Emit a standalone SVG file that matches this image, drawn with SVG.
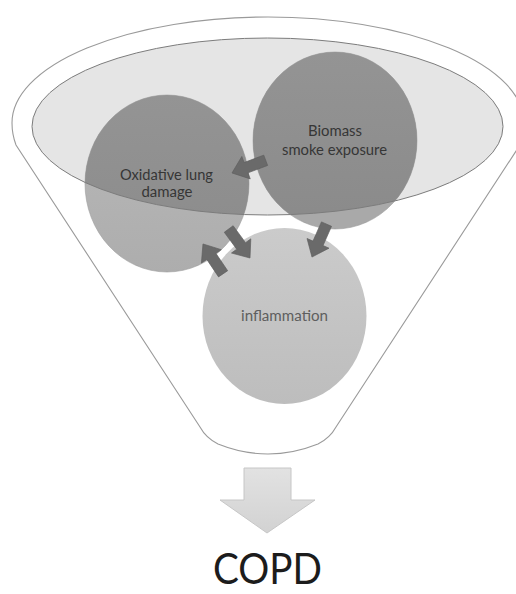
<svg xmlns="http://www.w3.org/2000/svg" width="516" height="594" viewBox="0 0 516 594">
<style>
.lbl{font-family:Lato,"Open Sans","Liberation Sans",sans-serif;text-anchor:middle;}
.dark{fill:#363636;font-size:15.5px;}
.arr{fill:#6a6a6a;stroke:#5e5e5e;stroke-width:0.6;}
</style>
<defs>
<linearGradient id="gOut" x1="0" y1="0" x2="0" y2="1">
<stop offset="0" stop-color="#b9b9b9"/><stop offset="1" stop-color="#adadad"/>
</linearGradient>
<linearGradient id="gIn" x1="0" y1="0" x2="0" y2="1">
<stop offset="0" stop-color="#949494"/><stop offset="1" stop-color="#8a8a8a"/>
</linearGradient>
<linearGradient id="gInf" x1="0" y1="0" x2="0" y2="1">
<stop offset="0" stop-color="#cbcbcb"/><stop offset="1" stop-color="#bdbdbd"/>
</linearGradient>
<linearGradient id="gDown" x1="0" y1="0" x2="0" y2="1">
<stop offset="0" stop-color="#e2e2e2"/><stop offset="1" stop-color="#d2d2d2"/>
</linearGradient>
<clipPath id="clipE"><ellipse cx="267.5" cy="126.5" rx="235.5" ry="88.5"/></clipPath>
<path id="blk" d="M0,-5.5 L21,-5.5 L21,-12 L36,0 L21,12 L21,5.5 L0,5.5 Z"/>
</defs>
<rect width="516" height="594" fill="#ffffff"/>
<g id="funnel">
<path d="M16,145 C13,137 12,130 12,123 A256,106 0 0 1 524,123 C524,130 523,137 520,145 L336,427 Q330,438 318,444 Q268,464 218,444 Q206,438 200,427 Z" fill="#ffffff" stroke="#9a9a9a" stroke-width="1.1"/>
</g>
<g id="mouth">
<ellipse cx="267.5" cy="126.5" rx="235.5" ry="88.5" fill="#e5e5e5"/>
</g>
<g id="oxidative">
<ellipse cx="167" cy="183.5" rx="82" ry="88.5" fill="url(#gOut)" stroke="#9c9c9c" stroke-width="0.6"/>
<ellipse cx="167" cy="183.5" rx="82" ry="88.5" fill="url(#gIn)" clip-path="url(#clipE)"/>
<text class="lbl dark" x="166.5" y="180" textLength="93" lengthAdjust="spacingAndGlyphs">Oxidative lung</text>
<text class="lbl dark" x="167" y="197" textLength="51" lengthAdjust="spacingAndGlyphs">damage</text>
</g>
<g id="biomass">
<ellipse cx="335" cy="140.5" rx="82" ry="88.5" fill="#a9a9a9" stroke="#9a9a9a" stroke-width="0.6"/>
<ellipse cx="335" cy="140.5" rx="82" ry="88.5" fill="url(#gIn)" clip-path="url(#clipE)"/>
<text class="lbl dark" x="335" y="136" textLength="54" lengthAdjust="spacingAndGlyphs">Biomass</text>
<text class="lbl dark" x="334.5" y="155" textLength="105" lengthAdjust="spacingAndGlyphs">smoke exposure</text>
</g>
<g id="mouth-outline">
<ellipse cx="267.5" cy="126.5" rx="235.5" ry="88.5" fill="none" stroke="#7c7c7c" stroke-width="1"/>
</g>
<g id="inflammation">
<ellipse cx="284.5" cy="316" rx="82" ry="88" fill="url(#gInf)"/>
<text class="lbl" x="284.5" y="321" fill="#5e5e5e" font-size="15.5" textLength="87" lengthAdjust="spacingAndGlyphs">inflammation</text>
</g>
<g id="connectors">
<use href="#blk" class="arr" transform="translate(265.7,160.3) rotate(159.4)"/>
<use href="#blk" class="arr" transform="translate(228.7,229) rotate(53.7)"/>
<use href="#blk" class="arr" transform="translate(223.1,273.8) rotate(-124)"/>
<use href="#blk" class="arr" transform="translate(326.5,224.1) rotate(113.8)"/>
<path id="down-arrow" d="M244,468 L291,468 L291,500 L315,500 L267,533 L220,500 L244,500 Z" fill="url(#gDown)" stroke="#c6c6c6" stroke-width="1"/>
</g>
<g id="copd">
<text class="lbl" x="267.5" y="584" fill="#1c1c1c" font-size="43" textLength="109" lengthAdjust="spacingAndGlyphs">COPD</text>
</g>
</svg>
